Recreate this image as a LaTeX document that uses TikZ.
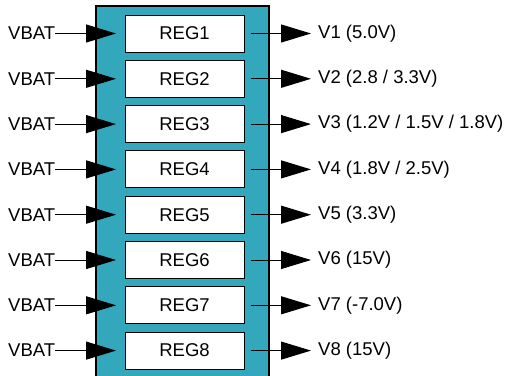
\documentclass[tikz,border=0pt]{standalone}
\usepackage{fontspec}
\setmainfont{Liberation Sans}
\usetikzlibrary{arrows.meta}
\definecolor{teal1}{HTML}{33A8BC}
\begin{document}
\begin{tikzpicture}[x=1pt,y=-1pt,
  lbl/.style={inner sep=0pt,font=\fontsize{18.5}{20}\selectfont},
  regbox/.style={draw=black,fill=white,line width=1pt,minimum width=119pt,minimum height=37pt,inner sep=0pt,font=\fontsize{18.5}{20}\selectfont},
  conn/.style={line width=1pt,-{Triangle[length=30pt,width=18pt]}}]
\useasboundingbox (0,0) rectangle (506,375);
\clip (0,0) rectangle (506,375);
\fill[teal1] (95.5,6) rectangle (269,380);
\draw[line width=2pt] (95.5,380) -- (95.5,6) -- (269,6) -- (269,380);
\foreach \i/\v in {1/{V1 (5.0V)},2/{V2 (2.8 / 3.3V)},3/{V3 (1.2V / 1.5V / 1.8V)},4/{V4 (1.8V / 2.5V)},5/{V5 (3.3V)},6/{V6 (15V)},7/{V7 (-7.0V)},8/{V8 (15V)}}{
  \pgfmathsetmacro{\yy}{33.5+45.3*(\i-1)}
  \node[regbox] (reg\i) at (184.5,\yy) {REG\i};
  \node[lbl,anchor=west] (vbat\i) at (8,\yy) {VBAT};
  \coordinate (in\i) at (116,\yy);
  \coordinate (os\i) at (251,\yy);
  \coordinate (oe\i) at (311,\yy);
  \node[lbl,anchor=west] (out\i) at (318,\yy) {\v};
  \draw[conn] (vbat\i.east) -- (in\i);
  \draw[conn] (os\i) -- (oe\i);
}
\end{tikzpicture}
\end{document}
